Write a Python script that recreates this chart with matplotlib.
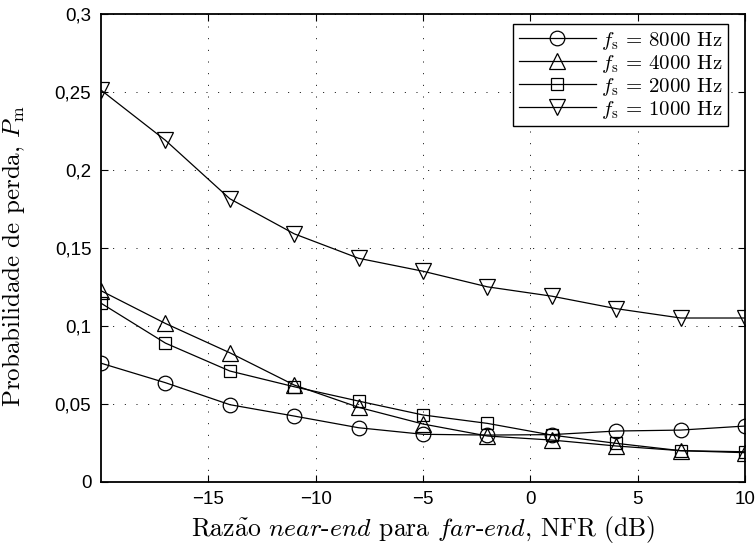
import numpy as np
import matplotlib
matplotlib.use("Agg")
import matplotlib.pyplot as plt

# NFR (dB) e probabilidade de perda por frequencia de amostragem
nfr = [-20, -17, -14, -11, -8, -5, -2, 1, 4, 7, 10]
p_8000 = [0.0760, 0.0635, 0.0494, 0.0421, 0.0346, 0.0304, 0.0299, 0.0302, 0.0325, 0.0331, 0.0357]
p_4000 = [0.1225, 0.1015, 0.0827, 0.0620, 0.0477, 0.0370, 0.0293, 0.0267, 0.0229, 0.0199, 0.0186]
p_2000 = [0.1145, 0.0889, 0.0710, 0.0609, 0.0517, 0.0428, 0.0374, 0.0299, 0.0246, 0.0199, 0.0192]
p_1000 = [0.2512, 0.2190, 0.1815, 0.1590, 0.1433, 0.1350, 0.1250, 0.1190, 0.1110, 0.1050, 0.1050]

labels = [r"$f_\mathrm{s}$ = 8000 Hz", r"$f_\mathrm{s}$ = 4000 Hz",
          r"$f_\mathrm{s}$ = 2000 Hz", r"$f_\mathrm{s}$ = 1000 Hz"]
xticks = [-15, -10, -5, 0, 5, 10]
yticks = [0, 0.05, 0.1, 0.15, 0.2, 0.25, 0.3]
ytick_labels = ["0", "0,05", "0,1", "0,15", "0,2", "0,25", "0,3"]

plt.rcParams["mathtext.fontset"] = "cm"
plt.rcParams["font.family"] = ["Liberation Sans", "DejaVu Sans"]
serif = ["cmr10", "DejaVu Serif"]

fig = plt.figure(figsize=(7.55, 5.5), dpi=100)
ax = fig.add_axes([0.1338, 0.1242, 0.8530, 0.8503])

series = [(p_8000, "o", 10.5), (p_4000, "^", 11.5), (p_2000, "s", 8.5), (p_1000, "v", 11.5)]
for (vals, mk, ms), lab in zip(series, labels):
    ax.plot(nfr, vals, color="black", lw=0.9, marker=mk, ms=ms,
            markerfacecolor="none", markeredgecolor="black", markeredgewidth=0.9, label=lab)

ax.set_xlim(-20, 10)
ax.set_ylim(0, 0.3)
ax.set_xticks(xticks)
ax.set_yticks(yticks)
ax.set_yticklabels(ytick_labels)
ax.tick_params(direction="in", length=5, width=0.8, labelsize=13.5,
               top=True, right=True, pad=7)
ax.grid(True, color="black", lw=0.7, linestyle=(0, (1, 11)))
for s in ax.spines.values():
    s.set_linewidth(1.3)

ax.set_xlabel(r"Raz$\tilde{\mathrm{a}}$o $\mathit{near}$-$\mathit{end}$ para $\mathit{far}$-$\mathit{end}$, NFR (dB)",
              family=serif, fontsize=18.5, labelpad=4)
ax.set_ylabel(r"Probabilidade de perda, $P_\mathrm{m}$", family=serif, fontsize=18)
ax.yaxis.set_label_coords(-0.115, 0.482)

leg = ax.legend(loc="upper right", prop={"family": serif, "size": 15},
                handlelength=3.7, handletextpad=0.25, borderpad=0.25, labelspacing=0.05,
                fancybox=False, framealpha=1, edgecolor="black", borderaxespad=0,
                bbox_to_anchor=(0.9736, 0.978))
leg.get_frame().set_linewidth(1.0)

fig.savefig("out.png", dpi=100)
